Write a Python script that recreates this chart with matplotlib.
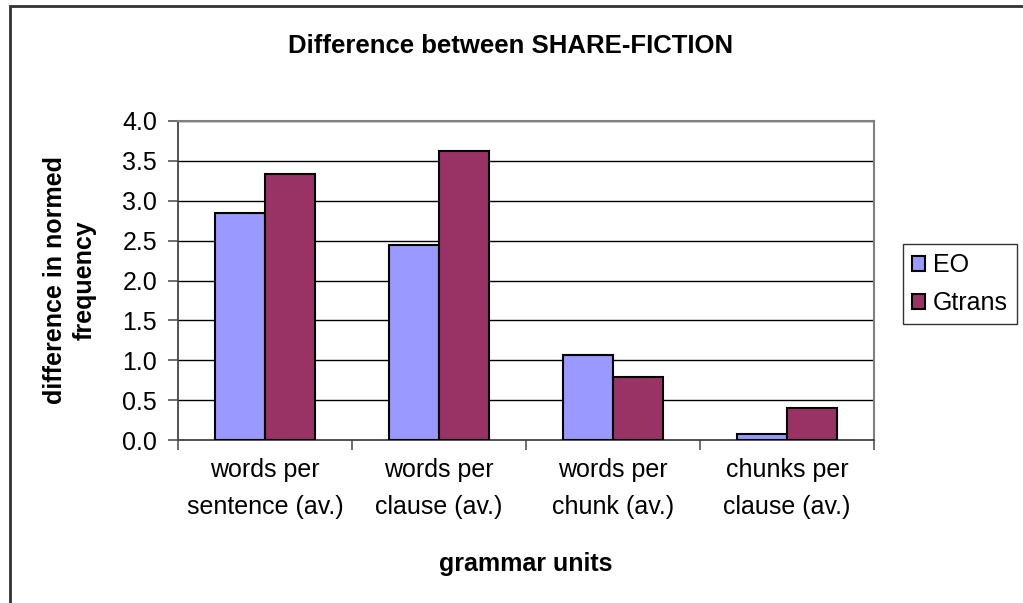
import matplotlib.pyplot as plt
import matplotlib.patches as patches
import numpy as np

plt.rcParams['font.family'] = ['Liberation Sans', 'DejaVu Sans']

categories = ['words per\nsentence (av.)', 'words per\nclause (av.)',
              'words per\nchunk (av.)', 'chunks per\nclause (av.)']
eo = [2.85, 2.45, 1.07, 0.08]
gtrans = [3.34, 3.62, 0.79, 0.40]

fig = plt.figure(figsize=(10.23, 6.03), dpi=100)
ax = fig.add_axes([178 / 1023, 163 / 603, 696 / 1023, 319 / 603])

x = np.arange(len(categories))
w = 0.29
ax.bar(x - w / 2, eo, w, color='#9999FF', edgecolor='black', linewidth=1.5, label='EO', zorder=3)
ax.bar(x + w / 2, gtrans, w, color='#993366', edgecolor='black', linewidth=1.5, label='Gtrans', zorder=3)

ax.set_xlim(-0.5, 3.5)
ax.set_ylim(0, 4.0)
ax.set_yticks(np.arange(0, 4.01, 0.5))
ax.set_yticklabels(['%.1f' % v for v in np.arange(0, 4.01, 0.5)])
ax.yaxis.grid(True, color='black', linewidth=1.0, zorder=0)

# category labels between boundary ticks
ax.set_xticks(np.arange(-0.5, 3.6, 1.0))
ax.set_xticklabels([])
ax.set_xticks(x, minor=True)
ax.set_xticklabels(categories, minor=True, fontsize=18, linespacing=1.7)
ax.tick_params(axis='x', which='minor', length=0, pad=13)
ax.tick_params(axis='x', which='major', length=7, width=1.2, color='#555555')
ax.tick_params(axis='y', labelsize=18, length=7, width=1.2, color='#555555', pad=8)

for s in ['top', 'right']:
    ax.spines[s].set_color('#808080')
    ax.spines[s].set_linewidth(1.5)
for s in ['left', 'bottom']:
    ax.spines[s].set_color('#444444')
    ax.spines[s].set_linewidth(1.3)

ax.set_xlabel('grammar units', fontsize=18, fontweight='bold')
ax.xaxis.set_label_coords(0.5, -112 / 319)
ax.set_ylabel('difference in normed\nfrequency', fontsize=18, fontweight='bold', linespacing=1.3)
ax.yaxis.set_label_coords(-(178 - 97) / 696, 0.5)
fig.text(511 / 1023, 1 - 46 / 603, 'Difference between SHARE-FICTION',
         ha='center', va='center', fontsize=18.5, fontweight='bold')

leg = ax.legend(loc='center left', bbox_to_anchor=((903 - 178) / 696, (603 - 284 - 163) / 319),
                fontsize=18, frameon=True, fancybox=False, edgecolor='black',
                handlelength=0.55, handleheight=0.55, handletextpad=0.3,
                borderpad=0.35, labelspacing=0.55, borderaxespad=0)
leg.get_frame().set_linewidth(1.0)

# outer chart border
fig.patches.append(patches.Rectangle((10 / 1023, -0.1), 1.2, 1 - 6 / 603 + 0.1,
                                     transform=fig.transFigure, fill=False,
                                     edgecolor='#333333', linewidth=2.0))

fig.savefig('out.png', dpi=100)
